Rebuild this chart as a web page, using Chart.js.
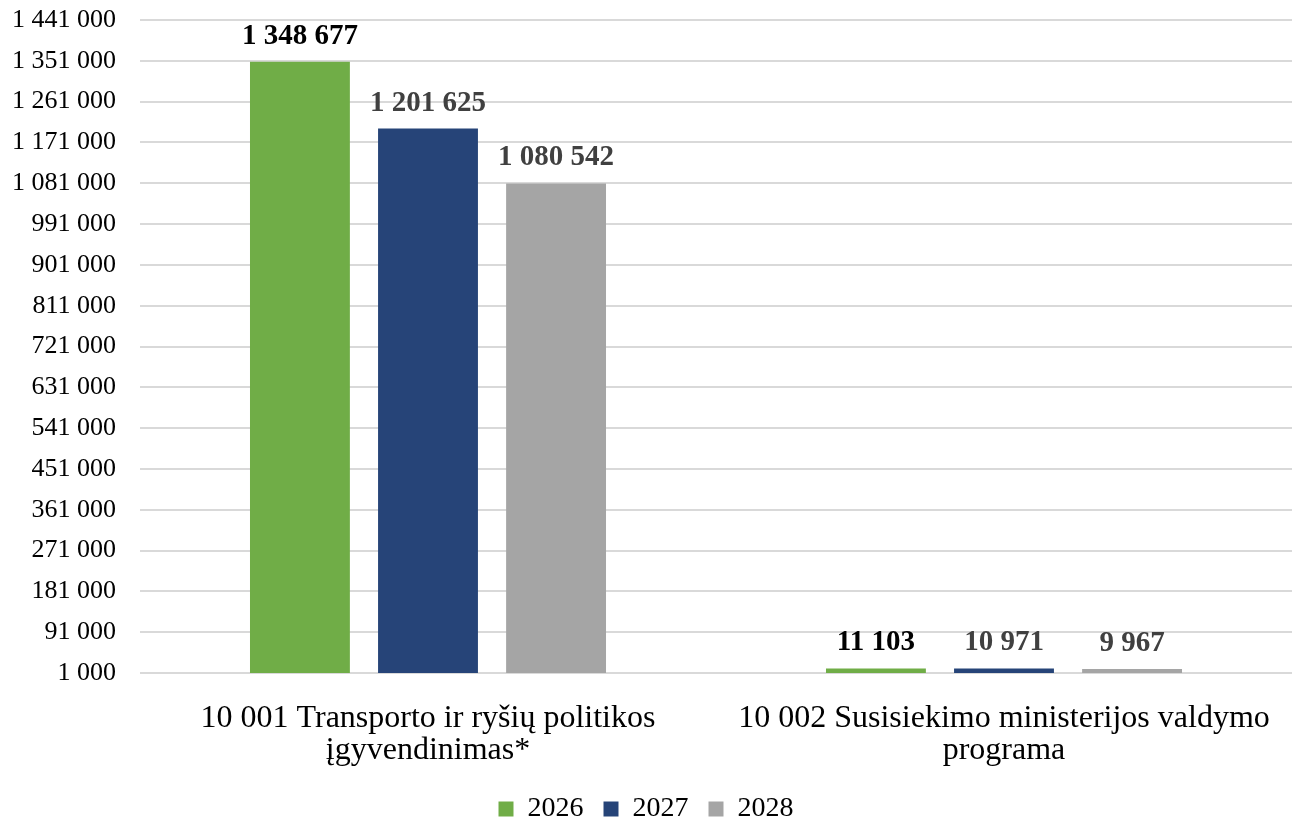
<!DOCTYPE html>
<html><head><meta charset="utf-8">
<script src="https://cdn.jsdelivr.net/npm/chart.js@4/dist/chart.umd.min.js"></script>
<style>html,body{margin:0;padding:0;background:#fff}#wrap{width:1298px;height:819px}</style>
</head><body><div id="wrap"><canvas id="c"></canvas></div>
<script>
const categories = [["10 001 Transporto ir ryšių politikos","įgyvendinimas*"],["10 002 Susisiekimo ministerijos valdymo","programa"]];
const years = ["2026","2027","2028"];
const values2026 = [1348677, 11103];
const values2027 = [1201625, 10971];
const values2028 = [1080542, 9967];
const colors = ["#70AD47","#264478","#A5A5A5"];
const labelColors = ["#000000","#404040","#404040"];
const yMin = 1000, yMax = 1441000, yStep = 90000;

function fmt(v){return String(v).replace(/\B(?=(\d{3})+(?!\d))/g,' ');}

const valueLabels = {
  id:'valueLabels',
  afterDatasetsDraw(chart){
    const ctx = chart.ctx;
    ctx.save();
    ctx.font = 'bold 29px "Liberation Serif"';
    ctx.textAlign='center'; ctx.textBaseline='bottom';
    chart.data.datasets.forEach((ds,i)=>{
      const meta = chart.getDatasetMeta(i);
      ctx.fillStyle = labelColors[i];
      meta.data.forEach((el,j)=>{
        ctx.fillText(fmt(ds.data[j]), el.x, el.y-11);
      });
    });
    ctx.restore();
  }
};

new Chart(document.getElementById('c'),{
  type:'bar',
  data:{labels:categories,datasets:[
    {label:years[0],data:values2026,backgroundColor:colors[0]},
    {label:years[1],data:values2027,backgroundColor:colors[1]},
    {label:years[2],data:values2028,backgroundColor:colors[2]}
  ]},
  options:{
    responsive:true,maintainAspectRatio:false,animation:false,
    layout:{padding:{top:20,right:6,left:0,bottom:-14}},
    datasets:{bar:{categoryPercentage:0.667,barPercentage:0.78}},
    plugins:{
      legend:{position:'bottom',labels:{font:{family:'"Liberation Serif"',size:28},color:'#000',boxWidth:15,boxHeight:15,padding:20}},
      tooltip:{enabled:false}
    },
    scales:{
      x:{grid:{display:false},border:{display:false},
         ticks:{font:{family:'"Liberation Serif"',size:32,lineHeight:1.0},color:'#000',padding:22,maxRotation:0,autoSkip:false},
         afterFit(s){s.height=s.height-14;}},
      y:{min:yMin,max:yMax,grid:{color:'#D9D9D9',lineWidth:2,drawTicks:false},border:{display:false},
         ticks:{stepSize:yStep,font:{family:'"Liberation Serif"',size:26},color:'#000',padding:24,callback:v=>fmt(v)},
         afterFit(s){s.width=140;s.paddingTop=0;s.paddingBottom=0;}}
    }
  },
  plugins:[valueLabels]
});
</script></body></html>
